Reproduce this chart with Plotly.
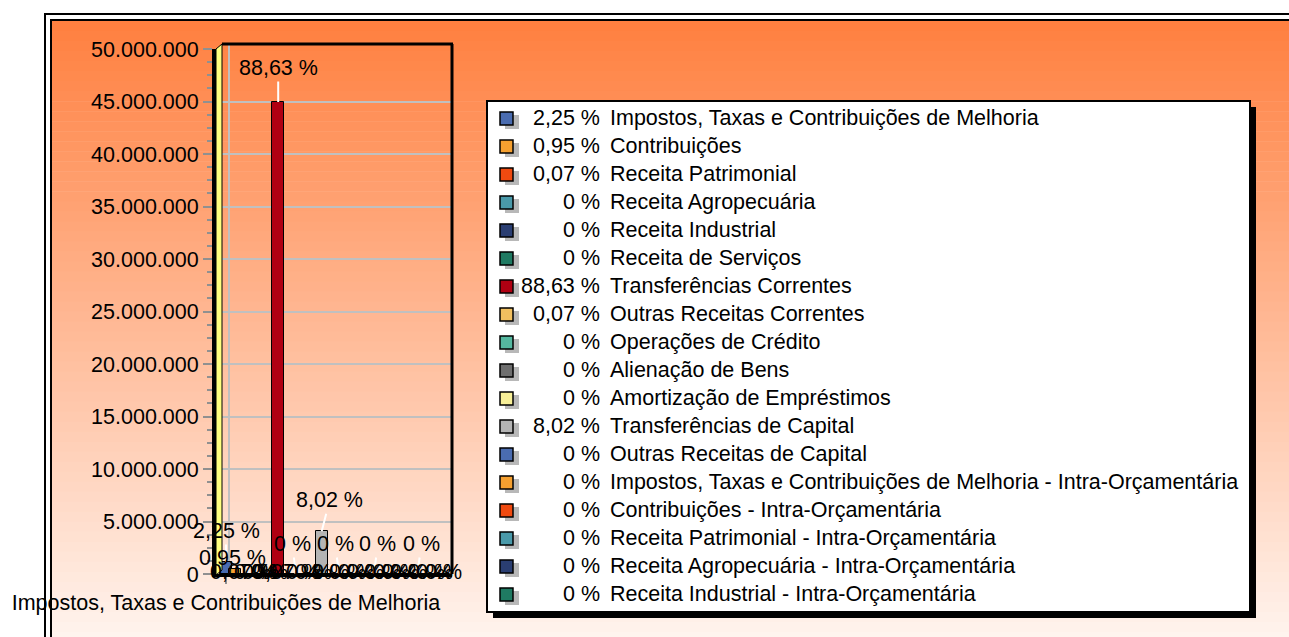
import plotly.graph_objects as go

# ---------------- data ----------------
CATEGORIES = [
    "Impostos, Taxas e Contribuições de Melhoria",
    "Contribuições",
    "Receita Patrimonial",
    "Receita Agropecuária",
    "Receita Industrial",
    "Receita de Serviços",
    "Transferências Correntes",
    "Outras Receitas Correntes",
    "Operações de Crédito",
    "Alienação de Bens",
    "Amortização de Empréstimos",
    "Transferências de Capital",
    "Outras Receitas de Capital",
    "Impostos, Taxas e Contribuições de Melhoria - Intra-Orçamentária",
    "Contribuições - Intra-Orçamentária",
    "Receita Patrimonial - Intra-Orçamentária",
    "Receita Agropecuária - Intra-Orçamentária",
    "Receita Industrial - Intra-Orçamentária",
    "Receita de Serviços - Intra-Orçamentária",
    "Transferências Correntes - Intra-Orçamentária",
    "Outras Receitas Correntes - Intra-Orçamentária",
    "Operações de Crédito - Intra-Orçamentária",
    "Alienação de Bens - Intra-Orçamentária",
    "Amortização de Empréstimos - Intra-Orçamentária",
    "Transferências de Capital - Intra-Orçamentária",
    "Outras Receitas de Capital - Intra-Orçamentária",
]
VALUES = [1140000, 482000, 35500, 0, 0, 0, 44950000, 35500, 0, 0, 0, 4068000, 0,
          0, 0, 0, 0, 0, 0, 0, 0, 0, 0, 0, 0, 0]
PERCENTS = ["2,25", "0,95", "0,07", "0", "0", "0", "88,63", "0,07", "0", "0", "0", "8,02", "0",
            "0", "0", "0", "0", "0", "0", "0", "0", "0", "0", "0", "0", "0"]
LEGEND_COUNT = 18
Y_TICKS = [0, 5000000, 10000000, 15000000, 20000000, 25000000,
           30000000, 35000000, 40000000, 45000000, 50000000]

# ---------------- style ----------------
PALETTE = ["#4A6CB0", "#F5A030", "#F04A10", "#4A9AAA", "#2A3E72", "#1F7A62",
           "#B00012", "#F2C060", "#55B8A0", "#6E6E6E", "#F8F098", "#B4B4B4"]
FONT = "Liberation Sans, Arial, sans-serif"
FS = 21.5
W, H = 1289, 637
L, R, T, B = 216, 452, 49, 574
X0PX, STEP = 226, 8.7  # pixel of first bar centre, pixel step between bars

# label placement (ax, ay offsets in px) for labels lifted above the floor
LIFTED = {0: (0, -31), 1: (-2, -11), 6: (0, -34), 8: (-3, -30), 11: (8, -31),
          13: (-4, -30), 17: (4, -30), 22: (4, -30)}

# legend box geometry (px)
LG_X0, LG_Y0, LG_X1, LG_Y1 = 487, 101, 1250, 612
LG_ROW0, LG_ROWSTEP = 118, 28


def px_x(px):
    return (px - L) / (R - L)


def px_y(py):
    return (B - py) / (B - T)


fig = go.Figure()
for i, (name, v, p) in enumerate(zip(CATEGORIES, VALUES, PERCENTS)):
    fig.add_trace(go.Bar(
        x=[i], y=[v], width=[1.4],
        name=f"{p} % {name}",
        marker=dict(color=PALETTE[i % 12], line=dict(color="black", width=1)),
        showlegend=False,
        hoverinfo="name+y",
    ))

annotations = []
for i, (v, p) in enumerate(zip(VALUES, PERCENTS)):
    if i in LIFTED:
        ax, ay = LIFTED[i]
        annotations.append(dict(
            x=i, y=v, xref="x", yref="y", text=f"{p} %",
            showarrow=True, arrowhead=0, arrowwidth=2, arrowcolor="white",
            ax=ax, ay=ay, font=dict(family=FONT, size=FS, color="black"),
        ))
    else:
        annotations.append(dict(
            x=i, y=v, xref="x", yref="y", text=f"{p} %", showarrow=False,
            yshift=2, font=dict(family=FONT, size=FS, color="black"),
        ))

shapes = []
# gradient background
N = 62
top_c = (255, 128, 64)
bot_c = (255, 244, 238)
y_start, y_end = 21, H + 5
for k in range(N):
    y0 = y_start + (y_end - y_start) * k / N
    y1 = y_start + (y_end - y_start) * (k + 1) / N + 0.6
    f = k / (N - 1)
    c = tuple(round(top_c[j] + (bot_c[j] - top_c[j]) * f) for j in range(3))
    shapes.append(dict(type="rect", xref="paper", yref="paper", layer="below",
                       x0=px_x(52), x1=px_x(W + 10), y0=px_y(y1), y1=px_y(y0),
                       fillcolor=f"rgb{c}", line=dict(width=0)))
# frames
shapes.append(dict(type="rect", xref="paper", yref="paper", layer="below",
                   x0=px_x(45), x1=px_x(W + 20), y0=px_y(H + 20), y1=px_y(14),
                   line=dict(color="black", width=2)))
shapes.append(dict(type="rect", xref="paper", yref="paper", layer="below",
                   x0=px_x(51), x1=px_x(W + 20), y0=px_y(H + 20), y1=px_y(20),
                   line=dict(color="black", width=2)))
# back wall
shapes.append(dict(type="line", xref="paper", yref="paper", layer="below",
                   x0=px_x(229), x1=px_x(229), y0=px_y(570), y1=px_y(44),
                   line=dict(color="#C0C0C0", width=2)))
shapes.append(dict(type="line", xref="paper", yref="paper", layer="above",
                   x0=px_x(222), x1=px_x(453), y0=px_y(44), y1=px_y(44),
                   line=dict(color="black", width=3)))
shapes.append(dict(type="line", xref="paper", yref="paper", layer="above",
                   x0=px_x(452), x1=px_x(452), y0=px_y(574), y1=px_y(44),
                   line=dict(color="black", width=3)))
# yellow side wall
path = (f"M {px_x(216)},{px_y(49)} L {px_x(222)},{px_y(44)} "
        f"L {px_x(222)},{px_y(570)} L {px_x(216)},{px_y(575)} Z")
shapes.append(dict(type="path", xref="paper", yref="paper", layer="above", path=path,
                   fillcolor="#FFFF80", line=dict(color="black", width=1)))

# legend (box, shadow, swatches, texts) built from the data lists
shapes.append(dict(type="rect", xref="paper", yref="paper", layer="above",
                   x0=px_x(LG_X0 + 6), x1=px_x(LG_X1 + 6), y0=px_y(LG_Y1 + 6), y1=px_y(LG_Y0 + 6),
                   fillcolor="black", line=dict(width=0)))
shapes.append(dict(type="rect", xref="paper", yref="paper", layer="above",
                   x0=px_x(LG_X0), x1=px_x(LG_X1), y0=px_y(LG_Y1), y1=px_y(LG_Y0),
                   fillcolor="white", line=dict(color="black", width=2)))
for k in range(LEGEND_COUNT):
    yc = LG_ROW0 + LG_ROWSTEP * k
    shapes.append(dict(type="rect", xref="paper", yref="paper", layer="above",
                       x0=px_x(505), x1=px_x(519), y0=px_y(yc + 11), y1=px_y(yc - 3),
                       fillcolor="#B8B8B8", line=dict(width=0)))
    shapes.append(dict(type="rect", xref="paper", yref="paper", layer="above",
                       x0=px_x(500), x1=px_x(513), y0=px_y(yc + 7), y1=px_y(yc - 6),
                       fillcolor=PALETTE[k % 12], line=dict(color="black", width=1.5)))
    annotations.append(dict(
        x=px_x(602), y=px_y(yc), xref="paper", yref="paper", xanchor="right",
        yanchor="middle", text=f"{PERCENTS[k]} %", showarrow=False,
        font=dict(family=FONT, size=FS, color="black")))
    annotations.append(dict(
        x=px_x(608), y=px_y(yc), xref="paper", yref="paper", xanchor="left",
        yanchor="middle", text=CATEGORIES[k], showarrow=False,
        font=dict(family=FONT, size=FS, color="black")))

fig.update_layout(
    width=W, height=H, autosize=False,
    margin=dict(l=L, r=W - R, t=T, b=H - B, pad=0),
    paper_bgcolor="white", plot_bgcolor="rgba(0,0,0,0)",
    barmode="overlay", bargap=0,
    separators=",.",
    font=dict(family=FONT, size=FS, color="black"),
    showlegend=False,
    xaxis=dict(range=[(L - X0PX) / STEP, (R - X0PX) / STEP],
               tickvals=[0], ticktext=[CATEGORIES[0]],
               ticks="outside", ticklen=7, tickwidth=2, tickcolor="#909090",
               showgrid=False, zeroline=False,
               showline=True, linecolor="black", linewidth=3,
               tickfont=dict(family=FONT, size=FS, color="black")),
    yaxis=dict(range=[0, 50000000], tickvals=Y_TICKS, tickformat=",d",
               ticks="outside", ticklen=9, tickwidth=2, tickcolor="#909090",
               minor=dict(dtick=1250000, ticklen=5, tickwidth=2, tickcolor="#909090",
                          ticks="outside", showgrid=False),
               showgrid=True, gridcolor="#C0C0C0", gridwidth=2,
               zeroline=False, showline=True, linecolor="black", linewidth=4,
               tickfont=dict(family=FONT, size=FS, color="black")),
    shapes=shapes,
    annotations=annotations,
)

fig.write_html("out.html", config={"displayModeBar": False},
               post_script="document.body.style.margin='0';")
